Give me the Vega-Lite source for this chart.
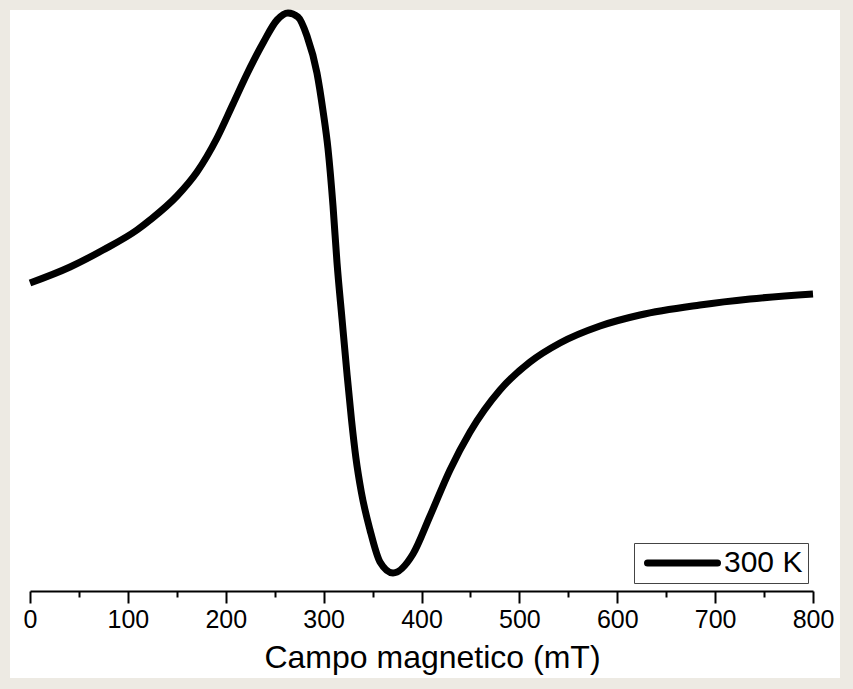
{
  "$schema": "https://vega.github.io/schema/vega-lite/v6.json",
  "autosize": {"type": "none"},
  "width": 830,
  "height": 668,
  "padding": {"left": 10, "top": 10, "right": 13, "bottom": 11},
  "background": "#edeae3",
  "config": {
    "view": {"fill": "white", "stroke": null},
    "font": "Liberation Sans"
  },
  "data": {
    "values": [
      {"B": 0, "I": 0.17, "series": "300 K"},
      {"B": 40.9, "I": 0.33, "series": "300 K"},
      {"B": 74.6, "I": 0.5, "series": "300 K"},
      {"B": 109.3, "I": 0.7, "series": "300 K"},
      {"B": 122.6, "I": 0.8, "series": "300 K"},
      {"B": 150.2, "I": 1.04, "series": "300 K"},
      {"B": 170.6, "I": 1.28, "series": "300 K"},
      {"B": 191.1, "I": 1.62, "series": "300 K"},
      {"B": 207.4, "I": 1.96, "series": "300 K"},
      {"B": 221.7, "I": 2.26, "series": "300 K"},
      {"B": 238.1, "I": 2.57, "series": "300 K"},
      {"B": 252.4, "I": 2.8, "series": "300 K"},
      {"B": 263.6, "I": 2.87, "series": "300 K"},
      {"B": 273.8, "I": 2.83, "series": "300 K"},
      {"B": 283.0, "I": 2.64, "series": "300 K"},
      {"B": 293.2, "I": 2.27, "series": "300 K"},
      {"B": 299.4, "I": 1.89, "series": "300 K"},
      {"B": 304.5, "I": 1.51, "series": "300 K"},
      {"B": 309.6, "I": 0.94, "series": "300 K"},
      {"B": 313.7, "I": 0.37, "series": "300 K"},
      {"B": 318.8, "I": -0.19, "series": "300 K"},
      {"B": 323.9, "I": -0.74, "series": "300 K"},
      {"B": 328.5, "I": -1.2, "series": "300 K"},
      {"B": 333.0, "I": -1.58, "series": "300 K"},
      {"B": 338.5, "I": -1.92, "series": "300 K"},
      {"B": 347.4, "I": -2.3, "series": "300 K"},
      {"B": 357.6, "I": -2.62, "series": "300 K"},
      {"B": 370.9, "I": -2.73, "series": "300 K"},
      {"B": 391.3, "I": -2.54, "series": "300 K"},
      {"B": 408.7, "I": -2.16, "series": "300 K"},
      {"B": 429.1, "I": -1.7, "series": "300 K"},
      {"B": 449.6, "I": -1.32, "series": "300 K"},
      {"B": 480.2, "I": -0.9, "series": "300 K"},
      {"B": 510.9, "I": -0.62, "series": "300 K"},
      {"B": 541.5, "I": -0.43, "series": "300 K"},
      {"B": 582.4, "I": -0.26, "series": "300 K"},
      {"B": 623.2, "I": -0.15, "series": "300 K"},
      {"B": 684.5, "I": -0.05, "series": "300 K"},
      {"B": 735.6, "I": 0.01, "series": "300 K"},
      {"B": 800, "I": 0.06, "series": "300 K"}
    ]
  },
  "mark": {"type": "line", "strokeWidth": 7, "interpolate": "monotone", "strokeCap": "butt", "strokeJoin": "round"},
  "encoding": {
    "x": {
      "field": "B",
      "type": "quantitative",
      "scale": {"domain": [0, 800], "range": [20, 803], "nice": false, "zero": false},
      "axis": {
        "title": "Campo magnetico (mT)",
        "titleFontSize": 32,
        "titleFontWeight": "normal",
        "titleColor": "black",
        "titlePadding": 10,
        "titleX": 422,
        "titleAlign": "center",
        "offset": -87,
        "values": [0, 50, 100, 150, 200, 250, 300, 350, 400, 450, 500, 550, 600, 650, 700, 750, 800],
        "labelExpr": "datum.value % 100 === 0 ? datum.label : ''",
        "format": "d",
        "labelFontSize": 25,
        "labelColor": "black",
        "labelPadding": 4,
        "labelFlush": false,
        "labelOverlap": false,
        "grid": false,
        "domainColor": "black",
        "domainWidth": 2,
        "tickColor": "black",
        "tickWidth": 2,
        "tickSize": {"condition": {"test": "datum.value % 100 === 0", "value": 12}, "value": 6}
      }
    },
    "y": {
      "field": "I",
      "type": "quantitative",
      "scale": {"domain": [-3.78, 2.9], "nice": false, "zero": false},
      "axis": null
    },
    "color": {
      "field": "series",
      "type": "nominal",
      "scale": {"range": ["black"]},
      "legend": {
        "title": null,
        "orient": "none",
        "legendX": 624,
        "legendY": 533,
        "symbolType": "stroke",
        "symbolSize": 4900,
        "symbolStrokeWidth": 7,
        "symbolOffset": 5,
        "clipHeight": 30,
        "labelFontSize": 30,
        "labelColor": "black",
        "labelOffset": 3,
        "padding": 5,
        "strokeColor": "#444",
        "fillColor": "white",
        "encode": {"symbols": {"update": {"strokeCap": {"value": "round"}}}}
      }
    }
  }
}
